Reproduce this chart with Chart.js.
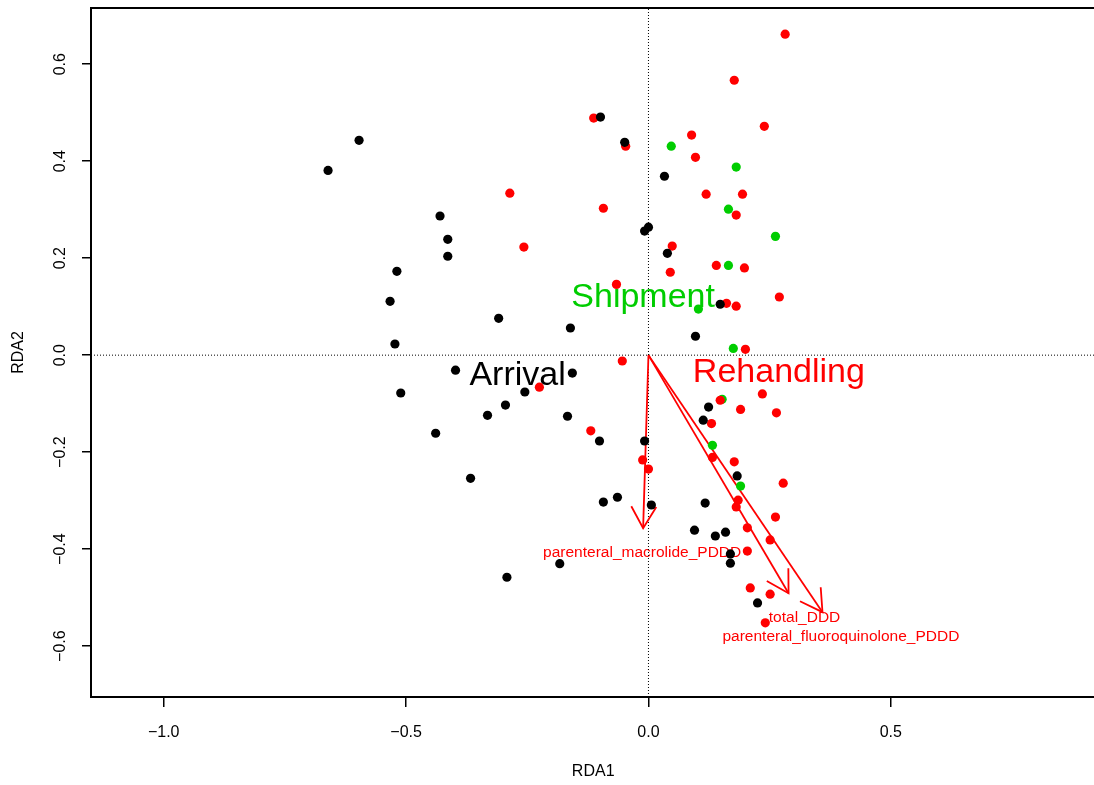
<!DOCTYPE html>
<html>
<head>
<meta charset="utf-8">
<script src="https://cdn.jsdelivr.net/npm/chart.js@4"></script>
<style>
html, body { margin: 0; padding: 0; background: #fff; overflow: hidden; }
#wrap { width: 1100px; height: 785px; }
</style>
</head>
<body>
<div id="wrap"><canvas id="rda" width="1100" height="785"></canvas></div>
<script>
// site scores [RDA1, RDA2] per group
var arrival = [
    [-0.661, 0.381], [-0.597, 0.443], [-0.430, 0.287], [-0.414, 0.239], [-0.414, 0.204],
    [-0.519, 0.173], [-0.533, 0.111], [-0.523, 0.023], [-0.511, -0.078], [-0.398, -0.031],
    [-0.439, -0.161], [-0.367, -0.254], [-0.309, 0.076], [-0.295, -0.103], [-0.332, -0.124],
    [-0.255, -0.076], [-0.161, 0.056], [-0.157, -0.037], [-0.167, -0.126], [-0.183, -0.430],
    [-0.292, -0.458], [-0.099, 0.491], [-0.049, 0.439], [0.033, 0.369], [-0.008, 0.256],
    [0.000, 0.264], [0.039, 0.210], [0.148, 0.105], [0.097, 0.039], [0.124, -0.107],
    [0.113, -0.134], [-0.101, -0.177], [-0.008, -0.177], [0.183, -0.249], [-0.064, -0.293],
    [-0.093, -0.303], [0.006, -0.309], [0.117, -0.305], [0.095, -0.361], [0.159, -0.365],
    [0.138, -0.373], [0.169, -0.410], [0.169, -0.429], [0.225, -0.511]
];
var shipment = [
    [0.047, 0.431], [0.181, 0.388], [0.165, 0.301], [0.262, 0.245], [0.165, 0.185],
    [0.103, 0.095], [0.175, 0.014], [0.152, -0.091], [0.132, -0.186], [0.190, -0.270]
];
var rehandling = [
    [0.282, 0.662], [0.177, 0.567], [0.239, 0.472], [-0.113, 0.489], [-0.047, 0.431],
    [0.089, 0.454], [0.097, 0.408], [0.119, 0.332], [0.194, 0.332], [0.181, 0.289],
    [-0.093, 0.303], [-0.286, 0.334], [-0.257, 0.223], [0.049, 0.225], [0.140, 0.185],
    [0.198, 0.180], [0.045, 0.171], [-0.066, 0.146], [0.270, 0.120], [0.161, 0.107],
    [0.181, 0.101], [0.200, 0.012], [-0.054, -0.012], [-0.225, -0.066], [0.235, -0.080],
    [0.148, -0.093], [0.190, -0.112], [0.264, -0.119], [0.130, -0.141], [-0.119, -0.156],
    [-0.012, -0.216], [0.132, -0.211], [0.000, -0.235], [0.177, -0.220], [0.278, -0.264],
    [0.185, -0.299], [0.181, -0.313], [0.262, -0.334], [0.204, -0.356], [0.251, -0.381],
    [0.204, -0.404], [0.210, -0.480], [0.251, -0.493], [0.241, -0.552]
];

// group centroid labels
var groupNames = ['Arrival', 'Shipment', 'Rehandling'];
var groupColors = ['#000000', '#00cd00', '#ff0000'];
var groupLabelX = [-0.270, -0.011, 0.269];
var groupLabelY = [-0.043, 0.118, -0.037];

// biplot arrows (constraining variables)
var envNames = ['parenteral_macrolide_PDDD', 'total_DDD', 'parenteral_fluoroquinolone_PDDD'];
var envX = [-0.011, 0.289, 0.359];
var envY = [-0.357, -0.491, -0.530];
var envLabelX = [-0.013, 0.322, 0.397];
var envLabelY = [-0.408, -0.542, -0.581];

var xTicks = [-1.0, -0.5, 0.0, 0.5];
var yTicks = [-0.6, -0.4, -0.2, 0.0, 0.2, 0.4, 0.6];
var xLim = [-1.150, 0.922];
var yLim = [-0.705, 0.716];

Chart.defaults.font.family = '"Liberation Sans", Arial, sans-serif';
Chart.defaults.color = '#000';

var toXY = (p) => ({ x: p[0], y: p[1] });
var fmt = (v) => (Math.abs(v) < 1e-9 ? 0 : v).toFixed(1).replace('-', '\u2212');

var datasets = [];
// dotted zero lines
datasets.push({ data: [{ x: xLim[0], y: 0 }, { x: xLim[1], y: 0 }], showLine: true, pointRadius: 0,
    borderColor: '#000', borderWidth: 1, borderDash: [1, 2], order: 20 });
datasets.push({ data: [{ x: 0, y: yLim[0] }, { x: 0, y: yLim[1] }], showLine: true, pointRadius: 0,
    borderColor: '#000', borderWidth: 1, borderDash: [1, 2], order: 20 });
envNames.forEach((name, i) => {
    datasets.push({ label: name, isArrow: true, data: [{ x: 0, y: 0 }, { x: envX[i], y: envY[i] }],
        showLine: true, pointRadius: 0, borderColor: '#ff0000', borderWidth: 1.8, order: 10 });
});
var groups = [shipment, rehandling, arrival];
var groupOrder = [3, 2, 1];
var colorFor = [groupColors[1], groupColors[2], groupColors[0]];
groups.forEach((g, i) => {
    datasets.push({ data: g.map(toXY), pointRadius: 4.6, pointBorderWidth: 0,
        backgroundColor: colorFor[i], borderColor: colorFor[i], order: groupOrder[i] });
});

var rdaDecor = {
    id: 'rdaDecor',
    beforeDatasetsDraw(chart) {
        var ctx = chart.ctx, a = chart.chartArea;
        var sx = chart.scales.x, sy = chart.scales.y;
        ctx.save();
        ctx.strokeStyle = '#000';
        ctx.lineWidth = 2;
        ctx.strokeRect(a.left, a.top, a.right - a.left, a.bottom - a.top);
        ctx.textAlign = 'center';
        ctx.textBaseline = 'middle';
        ctx.font = '34px "Liberation Sans", Arial, sans-serif';
        groupNames.forEach((n, i) => {
            ctx.fillStyle = groupColors[i];
            ctx.fillText(n, sx.getPixelForValue(groupLabelX[i]), sy.getPixelForValue(groupLabelY[i]));
        });
        ctx.font = '15.5px "Liberation Sans", Arial, sans-serif';
        ctx.fillStyle = '#ff0000';
        envNames.forEach((n, i) => {
            ctx.fillText(n, sx.getPixelForValue(envLabelX[i]), sy.getPixelForValue(envLabelY[i]));
        });
        ctx.restore();
    },
    afterDatasetDraw(chart, args) {
        var ds = chart.data.datasets[args.index];
        if (!ds.isArrow) return;
        var a = args.meta.data[0], b = args.meta.data[1];
        var ang = Math.atan2(b.y - a.y, b.x - a.x);
        var len = 25, spread = Math.PI / 6;
        var ctx = chart.ctx;
        ctx.save();
        ctx.strokeStyle = ds.borderColor;
        ctx.lineWidth = ds.borderWidth;
        ctx.beginPath();
        ctx.moveTo(b.x - len * Math.cos(ang - spread), b.y - len * Math.sin(ang - spread));
        ctx.lineTo(b.x, b.y);
        ctx.lineTo(b.x - len * Math.cos(ang + spread), b.y - len * Math.sin(ang + spread));
        ctx.stroke();
        ctx.restore();
    }
};

var ctx = document.getElementById('rda').getContext('2d');
var rdaChart = new Chart(ctx, {
    type: 'scatter',
    data: { datasets: datasets },
    options: {
        responsive: false,
        animation: false,
        layout: { padding: { left: 0, right: 3, top: 8, bottom: 0 } },
        plugins: { legend: { display: false }, tooltip: { enabled: false } },
        scales: {
            x: {
                type: 'linear', min: xLim[0], max: xLim[1],
                afterBuildTicks: (s) => { s.ticks = xTicks.map((v) => ({ value: v })); },
                afterFit: (s) => { s.height = 88; s.paddingLeft = 0; s.paddingRight = 0; },
                grid: { drawOnChartArea: false, drawTicks: true, tickLength: 10, color: '#000', lineWidth: 1.5 },
                border: { display: false },
                ticks: { font: { size: 16 }, color: '#000', padding: 16, maxRotation: 0, autoSkip: false, callback: fmt },
                title: { display: true, text: 'RDA1', font: { size: 16 }, color: '#000', padding: { top: 0, bottom: 4 } }
            },
            y: {
                type: 'linear', min: yLim[0], max: yLim[1],
                afterBuildTicks: (s) => { s.ticks = yTicks.map((v) => ({ value: v })); },
                afterFit: (s) => { s.width = 91; s.paddingTop = 0; s.paddingBottom = 0; },
                grid: { drawOnChartArea: false, drawTicks: true, tickLength: 9, color: '#000', lineWidth: 1.5 },
                border: { display: false },
                ticks: { font: { size: 16 }, color: '#000', padding: 6, minRotation: 90, maxRotation: 90,
                    crossAlign: 'center', autoSkip: false, callback: fmt },
                title: { display: true, text: 'RDA2', font: { size: 16 }, color: '#000', padding: { top: 9, bottom: 0 } }
            }
        }
    },
    plugins: [rdaDecor]
});
</script>
</body>
</html>
